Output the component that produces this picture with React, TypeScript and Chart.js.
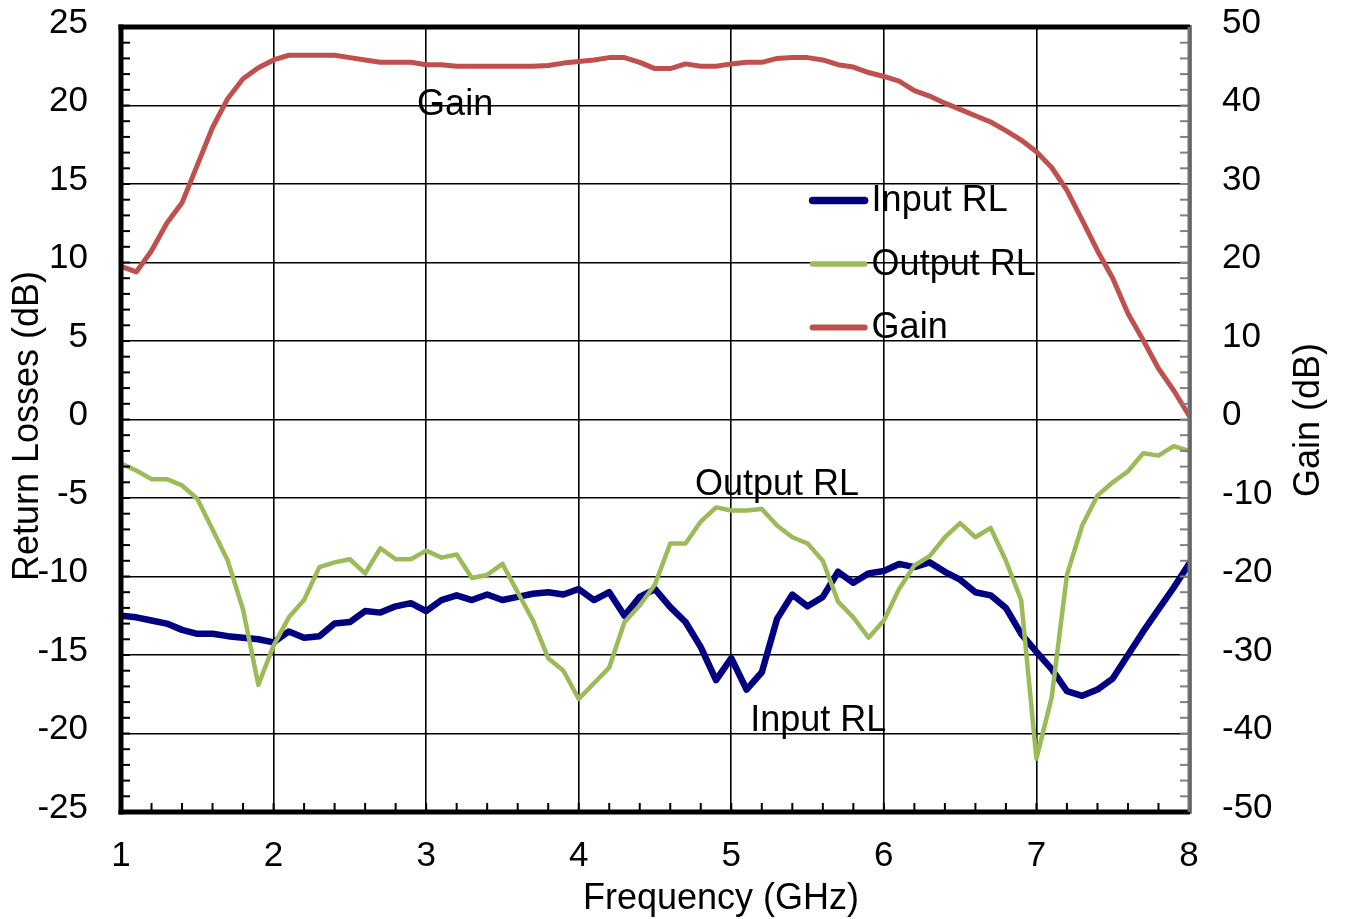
import React, { useEffect, useRef } from "react";
import { Chart, registerables } from "chart.js";

Chart.register(...registerables);

// Frequency points (GHz)
const FREQ = [
  1.0, 1.1, 1.2, 1.3, 1.4, 1.5, 1.6, 1.7, 1.8, 1.9,
  2.0, 2.1, 2.2, 2.3, 2.4, 2.5, 2.6, 2.7, 2.8, 2.9,
  3.0, 3.1, 3.2, 3.3, 3.4, 3.5, 3.6, 3.7, 3.8, 3.9,
  4.0, 4.1, 4.2, 4.3, 4.4, 4.5, 4.6, 4.7, 4.8, 4.9,
  5.0, 5.1, 5.2, 5.3, 5.4, 5.5, 5.6, 5.7, 5.8, 5.9,
  6.0, 6.1, 6.2, 6.3, 6.4, 6.5, 6.6, 6.7, 6.8, 6.9,
  7.0, 7.1, 7.2, 7.3, 7.4, 7.5, 7.6, 7.7, 7.8, 7.9,
  8.0,
];

// Input return loss (dB), left axis
const INPUT_RL = [
  -12.5, -12.6, -12.8, -13.0, -13.4, -13.65, -13.65, -13.8, -13.9, -14.0,
  -14.2, -13.5, -13.9, -13.8, -13.0, -12.9, -12.2, -12.3, -11.9, -11.7,
  -12.2, -11.5, -11.2, -11.5, -11.15, -11.5, -11.3, -11.1, -11.0, -11.15,
  -10.8, -11.5, -11.0, -12.5, -11.3, -10.8, -11.95, -12.9, -14.5, -16.6,
  -15.2, -17.2, -16.1, -12.7, -11.15, -11.9, -11.3, -9.7, -10.4, -9.8,
  -9.65, -9.2, -9.4, -9.1, -9.7, -10.2, -11.0, -11.2, -12.0, -13.65,
  -14.8, -15.9, -17.3, -17.6, -17.2, -16.5, -15.0, -13.5, -12.1, -10.7,
  -9.2,
];

// Output return loss (dB), left axis
const OUTPUT_RL = [
  -2.8, -3.25, -3.8, -3.8, -4.2, -5.05, -7.0, -9.0, -12.1, -16.9,
  -14.4, -12.6, -11.5, -9.4, -9.1, -8.9, -9.8, -8.2, -8.9, -8.9,
  -8.35, -8.8, -8.6, -10.1, -9.9, -9.2, -11.0, -12.8, -15.2, -16.0,
  -17.8, -16.8, -15.8, -12.9, -11.85, -10.5, -7.9, -7.9, -6.5, -5.6,
  -5.8, -5.8, -5.7, -6.75, -7.5, -7.9, -9.0, -11.6, -12.6, -13.9,
  -12.8, -10.8, -9.3, -8.7, -7.5, -6.6, -7.5, -6.9, -9.0, -11.5,
  -21.6, -17.7, -9.9, -6.75, -4.85, -4.0, -3.3, -2.15, -2.3, -1.7,
  -2.0,
];

// Gain (dB), right axis
const GAIN = [
  19.5, 18.8, 21.5, 25.0, 27.6, 32.4, 37.2, 40.9, 43.4, 44.8,
  45.8, 46.4, 46.4, 46.4, 46.4, 46.1, 45.8, 45.5, 45.5, 45.5,
  45.2, 45.2, 45.0, 45.0, 45.0, 45.0, 45.0, 45.0, 45.1, 45.4,
  45.6, 45.8, 46.1, 46.1, 45.5, 44.7, 44.7, 45.3, 45.0, 45.0,
  45.3, 45.5, 45.5, 46.0, 46.1, 46.1, 45.8, 45.2, 44.9, 44.2,
  43.7, 43.1, 41.9, 41.2, 40.3, 39.5, 38.7, 37.9, 36.8, 35.6,
  34.1, 32.1, 29.2, 25.4, 21.5, 18.0, 13.5, 10.1, 6.5, 3.7,
  0.5,
];

const SERIES_LABELS = ["Input RL", "Output RL", "Gain"];
const SERIES_COLORS = ["#000080", "#9BBB59", "#C0504D"];
const SERIES_WIDTHS = [6.5, 4.5, 5];

const X_TITLE = "Frequency (GHz)";
const Y_TITLE = "Return Losses (dB)";
const Y1_TITLE = "Gain (dB)";

// In-plot annotations: [text, freq, return-loss value]
const ANNOTATIONS: [string, number, number][] = [
  ["Gain", 3.19, 20],
  ["Output RL", 5.3, -4.2],
  ["Input RL", 5.57, -19.2],
];

const FONT = '"Liberation Sans", Arial, Helvetica, sans-serif';

const overlayPlugin = {
  id: "overlay",
  afterDatasetsDraw(chart: any) {
    const ctx: CanvasRenderingContext2D = chart.ctx;
    const { left, right, top, bottom } = chart.chartArea;
    const xs = chart.scales.x;
    const ys = chart.scales.y;
    const y1s = chart.scales.y1;
    ctx.save();

    const seg = (x1: number, y1: number, x2: number, y2: number) => {
      ctx.beginPath();
      ctx.moveTo(x1, y1);
      ctx.lineTo(x2, y2);
      ctx.stroke();
    };

    // minor ticks (inside)
    ctx.lineCap = "butt";
    ctx.strokeStyle = "#000";
    ctx.lineWidth = 2;
    for (let i = 0; i <= 50; i++) {
      const py = ys.getPixelForValue(-25 + i);
      seg(left, py, left + 9, py);
    }
    for (let i = 0; i <= 35; i++) {
      const px = xs.getPixelForValue(1 + i * 0.2);
      seg(px, bottom, px, bottom - 9);
    }
    ctx.strokeStyle = "#808080";
    for (let i = 0; i <= 50; i++) {
      const py = y1s.getPixelForValue(-50 + i * 2);
      seg(right - 9, py, right, py);
    }

    // frame
    ctx.strokeStyle = "#000";
    ctx.lineWidth = 5;
    seg(left - 2.5, top, right + 1, top);
    seg(left, top - 2.5, left, bottom + 2.5);
    seg(left - 2.5, bottom, right + 1, bottom);
    ctx.strokeStyle = "#707070";
    ctx.lineWidth = 3;
    seg(right, top, right, bottom);
    ctx.strokeStyle = "#000";
    ctx.lineWidth = 1;
    seg(right + 2, top - 2, right + 2, bottom + 2);

    // annotations
    ctx.fillStyle = "#000";
    ctx.font = `36px ${FONT}`;
    ctx.textAlign = "center";
    ctx.textBaseline = "middle";
    for (const [txt, f, v] of ANNOTATIONS) {
      ctx.fillText(txt, xs.getPixelForValue(f), ys.getPixelForValue(v));
    }

    // legend (inside plot)
    const lx = xs.getPixelForValue(5.52);
    const ly0 = ys.getPixelForValue(13.95);
    const gap = 63.5;
    ctx.textAlign = "left";
    chart.data.datasets.forEach((ds: any, i: number) => {
      const yy = ly0 + i * gap;
      ctx.strokeStyle = ds.borderColor;
      ctx.lineWidth = ds.borderWidth + 1;
      ctx.lineCap = "round";
      seg(lx + 2, yy, lx + 54, yy);
      ctx.fillStyle = "#000";
      ctx.fillText(ds.label, lx + 61, yy + 1);
    });

    // axis titles
    ctx.fillStyle = "#000";
    ctx.font = `36px ${FONT}`;
    ctx.textAlign = "center";
    ctx.textBaseline = "middle";
    ctx.fillText(X_TITLE, (left + right) / 2 + 66, 899);
    ctx.save();
    ctx.translate(28, 426);
    ctx.rotate(-Math.PI / 2);
    ctx.fillText(Y_TITLE, 0, 0);
    ctx.restore();
    ctx.save();
    ctx.translate(1309, 420);
    ctx.rotate(-Math.PI / 2);
    ctx.fillText(Y1_TITLE, 0, 0);
    ctx.restore();

    ctx.restore();
  },
};

const zeroPad = (s: any) => {
  s.paddingTop = 0;
  s.paddingBottom = 0;
  s.paddingLeft = 0;
  s.paddingRight = 0;
};

export default function App() {
  const canvasRef = useRef<HTMLCanvasElement | null>(null);

  useEffect(() => {
    if (!canvasRef.current) return;
    const mk = (vals: number[]) => FREQ.map((f, i) => ({ x: f, y: vals[i] }));
    const tickFont = { family: FONT, size: 35 };
    const chart = new Chart(canvasRef.current, {
      type: "line",
      data: {
        datasets: [
          {
            label: SERIES_LABELS[0],
            data: mk(INPUT_RL),
            borderColor: SERIES_COLORS[0],
            borderWidth: SERIES_WIDTHS[0],
            yAxisID: "y",
            order: 3,
          },
          {
            label: SERIES_LABELS[1],
            data: mk(OUTPUT_RL),
            borderColor: SERIES_COLORS[1],
            borderWidth: SERIES_WIDTHS[1],
            yAxisID: "y",
            order: 2,
          },
          {
            label: SERIES_LABELS[2],
            data: mk(GAIN),
            borderColor: SERIES_COLORS[2],
            borderWidth: SERIES_WIDTHS[2],
            yAxisID: "y1",
            order: 1,
          },
        ] as any,
      },
      options: {
        animation: false,
        responsive: true,
        maintainAspectRatio: false,
        layout: { padding: { top: 27, left: 0, right: 0, bottom: 0 } },
        elements: {
          point: { radius: 0 },
          line: { tension: 0, borderJoinStyle: "round", borderCapStyle: "round", fill: false },
        },
        plugins: {
          legend: { display: false },
          tooltip: { enabled: false },
          title: { display: false },
        },
        scales: {
          x: {
            type: "linear",
            min: 1,
            max: 8,
            afterFit: (s: any) => {
              s.height = 107;
              zeroPad(s);
            },
            ticks: {
              stepSize: 1,
              autoSkip: false,
              maxRotation: 0,
              padding: 23,
              color: "#000",
              font: tickFont,
            },
            grid: { color: "#000", lineWidth: 1.6, drawTicks: false },
            border: { display: false },
            title: { display: false },
          },
          y: {
            type: "linear",
            position: "left",
            min: -25,
            max: 25,
            afterFit: (s: any) => {
              s.width = 121;
              zeroPad(s);
            },
            ticks: {
              stepSize: 5,
              padding: 33,
              labelOffset: -4,
              color: "#000",
              font: tickFont,
            },
            grid: { color: "#000", lineWidth: 1.6, drawTicks: false },
            border: { display: false },
            title: { display: false },
          },
          y1: {
            type: "linear",
            position: "right",
            min: -50,
            max: 50,
            afterFit: (s: any) => {
              s.width = 156;
              zeroPad(s);
            },
            ticks: {
              stepSize: 10,
              padding: 33,
              labelOffset: -4,
              color: "#000",
              font: tickFont,
            },
            grid: { drawOnChartArea: false, drawTicks: false },
            border: { display: false },
            title: { display: false },
          },
        },
      } as any,
      plugins: [overlayPlugin],
    });
    return () => chart.destroy();
  }, []);

  return (
    <div
      style={{
        position: "fixed",
        left: 0,
        top: 0,
        width: 1345,
        height: 919,
        background: "#fff",
      }}
    >
      <canvas ref={canvasRef} />
    </div>
  );
}
